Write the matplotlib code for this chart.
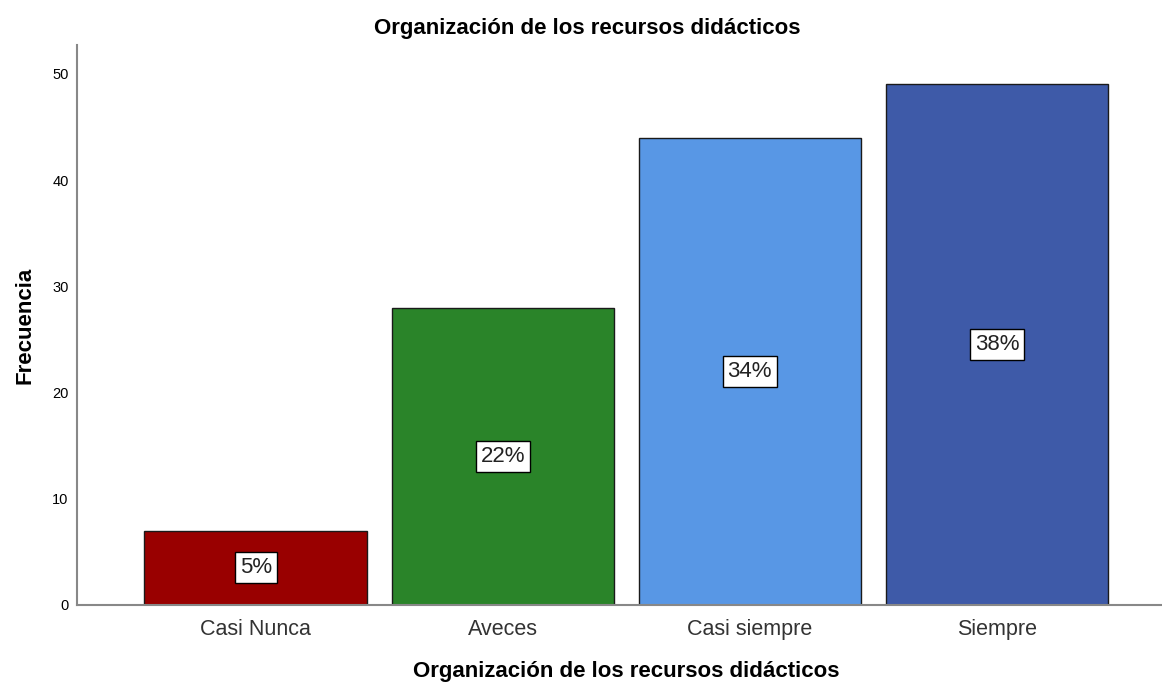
import numpy as np
from matplotlib import pyplot as plt

plt.rcParams['font.family'] = ['Liberation Sans', 'DejaVu Sans']

# frequencies by category
categories = ["Casi Nunca", "Aveces", "Casi siempre", "Siempre"]
frecuencia = [7, 28, 44, 49]
porcentaje = ["5%", "22%", "34%", "38%"]
colores = ["#990000", "#2a8429", "#5897e5", "#3e5aa8"]

fig = plt.figure(figsize=(11.62, 6.84), dpi=100)
ax = fig.add_axes([0.0663, 0.1155, 0.9337, 0.8185])

x = np.arange(len(categories))
bars = ax.bar(x, frecuencia, width=0.9, color=colores, edgecolor="#1a1a1a", linewidth=1)

for xi, val, lab in zip(x, frecuencia, porcentaje):
    ax.text(xi, val / 2, lab, ha="center", va="center", fontsize=16, color="#222222",
            bbox=dict(facecolor="white", edgecolor="black", boxstyle="square,pad=0.22", linewidth=1))

ax.set_xlim(-0.723, 3.668)
ax.set_ylim(0, 52.7)
ax.set_xticks(x)
ax.set_xticklabels(categories, fontsize=15.5, color="#333333")
ax.set_yticks([0, 10, 20, 30, 40, 50])
ax.tick_params(axis="y", labelsize=10.5, length=0, pad=6)
ax.tick_params(axis="x", length=0, pad=10)

for s in ["top", "right"]:
    ax.spines[s].set_visible(False)
for s in ["left", "bottom"]:
    ax.spines[s].set_color("#888888")
    ax.spines[s].set_linewidth(1.5)

ax.set_title("Organización de los recursos didácticos", fontsize=16, fontweight="bold", pad=8, x=0.47)
ax.set_xlabel("Organización de los recursos didácticos", fontsize=16, fontweight="bold", labelpad=15, x=0.506)
ax.set_ylabel("Frecuencia", fontsize=16, fontweight="bold", labelpad=12)

fig.savefig("out.png", dpi=100)
